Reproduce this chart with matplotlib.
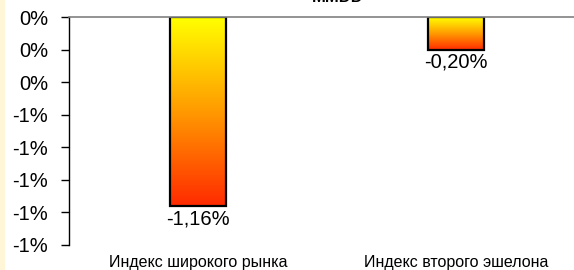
import matplotlib.pyplot as plt
import numpy as np
from matplotlib.colors import LinearSegmentedColormap
from matplotlib.patches import Rectangle
from matplotlib.ticker import FuncFormatter

categories = ["Индекс широкого рынка", "Индекс второго эшелона"]
values = [-1.16, -0.20]
title = "MMDD"

plt.rcParams["font.family"] = ["Liberation Sans", "DejaVu Sans"]

fig = plt.figure(figsize=(5.74, 2.70), dpi=100)
fig.patches.append(Rectangle((0, 0), 4 / 574, 1, transform=fig.transFigure,
                             color="#fff6d8", zorder=0))
ax = fig.add_axes([69 / 574, 1 - 245 / 270, 516 / 574, 228 / 270])

cmap = LinearSegmentedColormap.from_list("yr", ["#ff2a00", "#ff9a00", "#ffff00"])
grad = np.linspace(0, 1, 256).reshape(-1, 1)
width = 0.22
for i, v in enumerate(values):
    x0 = i - width / 2
    ax.imshow(grad, extent=(x0, x0 + width, v, 0), origin="lower", cmap=cmap,
              aspect="auto", zorder=2)
    ax.add_patch(Rectangle((x0, v), width, -v, fill=False, edgecolor="black",
                           linewidth=1.6, zorder=3))
    ax.text(i, v - 0.02, f"{v:.2f}%".replace(".", ","), ha="center", va="top",
            fontsize=14.5, color="black")

ax.set_xlim(-0.5, 1.5)
ax.set_ylim(-1.4, 0)
ax.set_yticks(np.arange(-1.4, 0.01, 0.2))


def pct(v, _):
    r = int(round(v))
    return f"{abs(r) if r == 0 else r}%"


ax.yaxis.set_major_formatter(FuncFormatter(pct))
ax.tick_params(axis="y", length=6, width=1, labelsize=14.5, pad=9)
ax.set_xticks(range(len(categories)), labels=categories)
ax.tick_params(axis="x", length=0, labelsize=11.5, pad=7)
ax.axhline(0, color="#808080", linewidth=1.2, zorder=4, clip_on=False)
for s in ["top", "right", "bottom"]:
    ax.spines[s].set_visible(False)
ax.spines["left"].set_linewidth(1)

fig.text(338 / 574, 1 - 2 / 270, title, ha="center", va="baseline",
         fontsize=12, fontweight="bold")

fig.savefig("out.png", dpi=100)
